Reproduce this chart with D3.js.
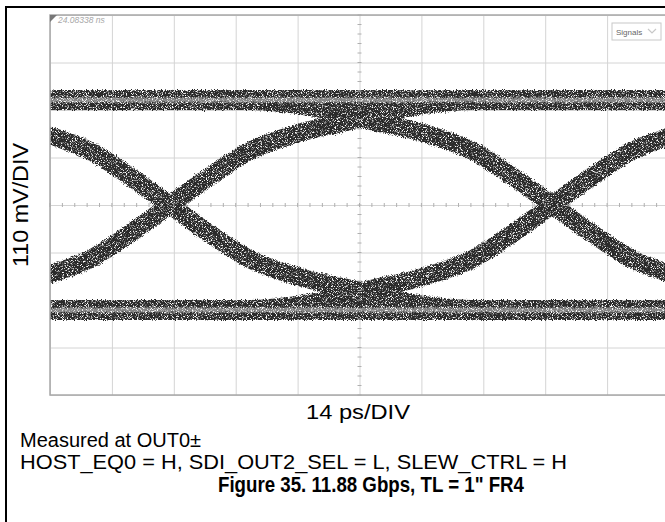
<!DOCTYPE html>
<html>
<head>
<meta charset="utf-8">
<script src="https://cdn.jsdelivr.net/npm/d3@7/dist/d3.min.js"></script>
<style>
  body { margin: 0; background: #fff; }
  svg { display: block; }
  text { font-family: "Liberation Sans", Arial, sans-serif; }
</style>
</head>
<body>
<svg id="chart" width="665" height="522"></svg>
<script>
// Scope divisions: 10 horizontal divisions of 14 ps, 8 vertical divisions of 110 mV
const timeGrid = [0, 14, 28, 42, 56, 70, 84, 98, 112, 126, 140];
const levelGrid = [-440, -330, -220, -110, 0, 110, 220, 330, 440];

// Settled logic levels (mV)
const highRail = 243;
const lowRail = -243;

// Transition trajectories, [time ps, level mV]
const risingEdgeA = [[-47.9,-243],[-35.9,-238],[-24.9,-222],[-15.9,-199],[-1.9,-166],[9.1,-125],[18.1,-66],[27.1,0],[36.1,66],[45.1,125],[56.1,166],[70.1,199],[79.1,222],[90.1,238],[102.1,243]];
const fallingEdgeA = [[-47.9,243],[-35.9,238],[-24.9,222],[-15.9,199],[-1.9,166],[9.1,125],[18.1,66],[27.1,0],[36.1,-66],[45.1,-125],[56.1,-166],[70.1,-199],[79.1,-222],[90.1,-238],[102.1,-243]];
const risingEdgeB = [[38.6,-243],[50.6,-238],[61.6,-222],[70.6,-199],[84.6,-166],[95.6,-125],[104.6,-66],[113.6,0],[122.6,66],[131.6,125],[142.6,166],[156.6,199],[165.6,222],[176.6,238],[188.6,243]];
const fallingEdgeB = [[38.6,243],[50.6,238],[61.6,222],[70.6,199],[84.6,166],[95.6,125],[104.6,66],[113.6,0],[122.6,-66],[131.6,-125],[142.6,-166],[156.6,-199],[165.6,-222],[176.6,-238],[188.6,-243]];

const svg = d3.select("#chart");
const W = 665, H = 522;

// Plot window
const pL = 50, pT = 15, pR = 669, pB = 395;
const x = d3.scaleLinear().domain([0, 140]).range([pL, pR]);
const y = d3.scaleLinear().domain([-440, 440]).range([pB, pT]);

// Outer frame (top and left edges visible)
svg.append("path")
  .attr("d", `M6,${H} V7 H${W}`)
  .attr("fill", "none").attr("stroke", "#000").attr("stroke-width", 2);

const defs = svg.append("defs");
defs.append("clipPath").attr("id", "plotClip")
  .append("rect").attr("x", pL).attr("y", pT)
  .attr("width", pR - pL).attr("height", pB - pT);

// Speckled phosphor texture for the persistence traces
const grain = defs.append("filter").attr("id", "grain")
  .attr("filterUnits", "userSpaceOnUse")
  .attr("x", 30).attr("y", 0).attr("width", 660).attr("height", 420);
grain.append("feTurbulence").attr("type", "fractalNoise")
  .attr("baseFrequency", 0.9).attr("numOctaves", 1).attr("seed", 4).attr("result", "jit");
grain.append("feDisplacementMap").attr("in", "SourceGraphic").attr("in2", "jit")
  .attr("scale", 6).attr("xChannelSelector", "R").attr("yChannelSelector", "G").attr("result", "rough");
grain.append("feTurbulence").attr("type", "fractalNoise")
  .attr("baseFrequency", 1.2).attr("numOctaves", 2).attr("seed", 9).attr("result", "spk");
grain.append("feColorMatrix").attr("in", "spk").attr("type", "matrix")
  .attr("values", "0 0 0 0 0  0 0 0 0 0  0 0 0 0 0  5 0 0 0 -1.4").attr("result", "mask");
grain.append("feComposite").attr("in", "rough").attr("in2", "mask").attr("operator", "in");

// Grid
const grid = svg.append("g");
grid.append("g")
  .attr("transform", `translate(0,${pB})`)
  .call(d3.axisBottom(x).tickValues(timeGrid).tickSize(-(pB - pT)).tickFormat(""))
  .call(g => g.select(".domain").remove())
  .call(g => g.selectAll("line").attr("stroke", "#d4d4d4").attr("stroke-width", 1));
grid.append("g")
  .attr("transform", `translate(${pL},0)`)
  .call(d3.axisLeft(y).tickValues(levelGrid).tickSize(-(pR - pL)).tickFormat(""))
  .call(g => g.select(".domain").remove())
  .call(g => g.selectAll("line").attr("stroke", "#d4d4d4").attr("stroke-width", 1));

// Traces
const line = d3.line().x(d => x(d[0])).y(d => y(d[1])).curve(d3.curveMonotoneX);
const traces = svg.append("g").attr("clip-path", "url(#plotClip)")
  .append("g").attr("filter", "url(#grain)");

const railData = [highRail, lowRail].map(v => [[-10, v], [150, v]]);
const edges = [risingEdgeA, fallingEdgeA, risingEdgeB, fallingEdgeB];

traces.selectAll("path.rail").data(railData).join("path").attr("class", "rail")
  .attr("d", line).attr("fill", "none").attr("stroke", "#2a2a2a").attr("stroke-width", 20);
traces.selectAll("path.edge").data(edges).join("path").attr("class", "edge")
  .attr("d", line).attr("fill", "none").attr("stroke", "#2a2a2a").attr("stroke-width", 18);
traces.selectAll("path.core").data(railData).join("path").attr("class", "core")
  .attr("d", line).attr("fill", "none").attr("stroke", "#858585").attr("stroke-width", 5);

// Centre crosshair minor ticks
const minorT = d3.range(0, 140.01, 2.8);
const minorV = d3.range(-440, 440.01, 22);
const cx = x(70), cy = y(0);
svg.append("g").selectAll("line").data(minorT).join("line")
  .attr("x1", d => x(d)).attr("x2", d => x(d))
  .attr("y1", cy - 2).attr("y2", cy + 2)
  .attr("stroke", "#b0b0b0").attr("stroke-width", 1);
svg.append("g").selectAll("line").data(minorV).join("line")
  .attr("y1", d => y(d)).attr("y2", d => y(d))
  .attr("x1", cx - 2).attr("x2", cx + 2)
  .attr("stroke", "#b0b0b0").attr("stroke-width", 1);

// Plot border
svg.append("rect").attr("x", pL).attr("y", pT)
  .attr("width", pR - pL).attr("height", pB - pT)
  .attr("fill", "none").attr("stroke", "#a8a8a8").attr("stroke-width", 1.5);

// Scope overlay annotations
svg.append("path").attr("d", `M${pL},${pT} h7 l-7,7 Z`).attr("fill", "#777");
svg.append("text").attr("x", 58).attr("y", 23)
  .attr("font-size", 8.5).attr("font-style", "italic").attr("fill", "#a8a8a8")
  .text("24.08338 ns");
svg.append("rect").attr("x", 612).attr("y", 23).attr("width", 49).attr("height", 17)
  .attr("fill", "#fff").attr("stroke", "#c8c8c8");
svg.append("text").attr("x", 616).attr("y", 35)
  .attr("font-size", 8).attr("fill", "#666").text("Signals");
svg.append("path").attr("d", "M648,29 l4,4 l4,-4").attr("fill", "none")
  .attr("stroke", "#c8c8c8").attr("stroke-width", 1.2);

// Axis scale labels
svg.append("text")
  .attr("transform", `translate(28,${cy}) rotate(-90)`)
  .attr("text-anchor", "middle").attr("font-size", 22).attr("fill", "#000")
  .attr("textLength", 124).attr("lengthAdjust", "spacingAndGlyphs")
  .text("110 mV/DIV");
svg.append("text").attr("x", 358).attr("y", 419)
  .attr("text-anchor", "middle").attr("font-size", 21).attr("fill", "#000")
  .attr("textLength", 104).attr("lengthAdjust", "spacingAndGlyphs")
  .text("14 ps/DIV");

// Caption
svg.append("text").attr("x", 20).attr("y", 447).attr("font-size", 20).text("Measured at OUT0±");
svg.append("text").attr("x", 20).attr("y", 469).attr("font-size", 20)
  .attr("textLength", 547).attr("lengthAdjust", "spacingAndGlyphs")
  .text("HOST_EQ0 = H, SDI_OUT2_SEL = L, SLEW_CTRL = H");
svg.append("text").attr("x", 371).attr("y", 492).attr("text-anchor", "middle")
  .attr("font-size", 21.5).attr("font-weight", "bold")
  .attr("textLength", 306).attr("lengthAdjust", "spacingAndGlyphs")
  .text("Figure 35. 11.88 Gbps, TL = 1\" FR4");
</script>
</body>
</html>
